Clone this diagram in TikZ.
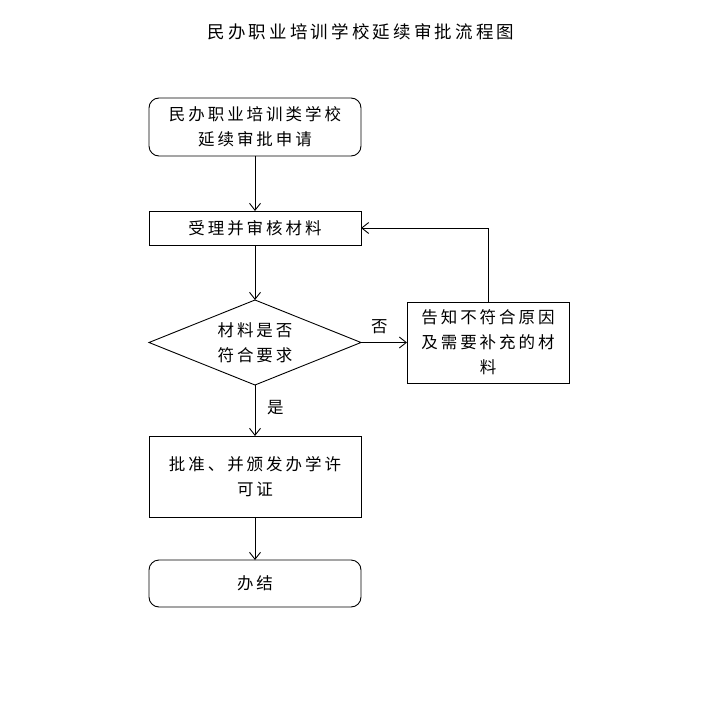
\documentclass[tikz,border=0pt]{standalone}
\usepackage{fontspec}
\usepackage{tikz}
\usetikzlibrary{arrows.meta, shapes.geometric}
\newfontfamily\cjk[LetterSpace=18]{Noto Sans CJK SC}

\begin{document}
\begin{tikzpicture}[
        x=1pt, y=-1pt,
        line width=0.9pt,
        every node/.style={align=center, outer sep=0pt,
                           font=\cjk\fontsize{16.5}{25}\selectfont},
        flow/.style={-{Straight Barb[length=7pt, width=11pt]}},
        termbox/.style={rectangle, rounded corners=10pt, draw,
                        minimum width=212pt, minimum height=58pt, inner sep=0pt},
        procbox/.style={rectangle, draw,
                        minimum width=212pt, minimum height=34pt, inner sep=0pt},
        checkbox/.style={diamond, draw, aspect=2.5,
                         minimum width=212pt, minimum height=85pt, inner sep=0pt},
        lbl/.style={inner sep=0pt}
    ]
        \useasboundingbox (0,0) rectangle (710,711);

        % --- Titulo ---
        \node[lbl, font=\cjk\fontsize{17.5}{25}\selectfont] (title) at (361,32)
            {民办职业培训学校延续审批流程图};

        % --- Cadena principal ---
        \node[termbox] (apply) at (255,127) {民办职业培训类学校\\延续审批申请};
        \node[procbox] (accept) at (255,228) {受理并审核材料};
        \node[checkbox] (check) at (255,342.5) {材料是否\\符合要求};
        \node[procbox, minimum height=81pt] (grant) at (255,476.5) {批准、并颁发办学许\\可证};
        \node[termbox, minimum height=47pt] (done) at (255,583.5) {办结};

        % --- Rama de retorno ---
        \node[procbox, minimum width=162pt, minimum height=81pt] (notify) at (488,342.5)
            {告知不符合原因\\及需要补充的材\\料};

        % --- Conectores ---
        \draw[flow] (apply) -- (accept);
        \draw[flow] (accept) -- (check);
        \draw[flow] (check.east) -- node[lbl, above=9pt, pos=0.4] (no) {否} (notify.west);
        \draw[flow] (notify.north) |- (accept.east);
        \draw[flow] (check.south) -- node[lbl, right=12pt, pos=0.45] (yes) {是} (grant.north);
        \draw[flow] (grant) -- (done);
    \end{tikzpicture}
\end{document}
